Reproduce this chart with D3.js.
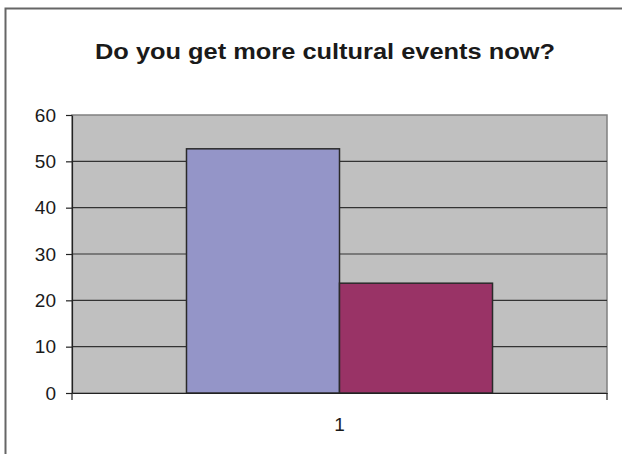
<!DOCTYPE html>
<html>
<head>
<meta charset="utf-8">
<script src="https://cdn.jsdelivr.net/npm/d3@7"></script>
<style>
  body { margin: 0; background: #fff; }
  svg { display: block; font-family: "Liberation Sans", Arial, sans-serif; }
</style>
</head>
<body>
<div id="chart"></div>
<script>
var title = "Do you get more cultural events now?";
var categories = ["1"];
var seriesNames = ["Yes", "No"];
var seriesValues = [52.7, 23.7];
var seriesColors = ["#9495c8", "#993366"];
var yTicks = [0, 10, 20, 30, 40, 50, 60];

var W = 622, H = 454;
var margin = {top: 115, right: 15, bottom: 61, left: 72},
    width = W - margin.left - margin.right,
    height = H - margin.top - margin.bottom;

var svg = d3.select("#chart")
    .append("svg")
    .attr("width", W)
    .attr("height", H);

// outer chart border
svg.append("rect")
    .attr("x", 5.5)
    .attr("y", 8.5)
    .attr("width", W)
    .attr("height", H)
    .attr("fill", "white")
    .attr("stroke", "#666")
    .attr("stroke-width", 2);

svg.append("text")
    .attr("x", 325)
    .attr("y", 59)
    .attr("text-anchor", "middle")
    .attr("textLength", 460)
    .attr("lengthAdjust", "spacingAndGlyphs")
    .style("font-size", "22.5px")
    .style("font-weight", "bold")
    .style("fill", "#1a1a1a")
    .text(title);

var g = svg.append("g")
    .attr("transform", "translate(" + margin.left + "," + margin.top + ")");

var y = d3.scaleLinear().domain([0, 60]).range([height, 0]);
var x0 = d3.scaleBand().domain(categories).range([0, width]).paddingInner(0).paddingOuter(0);
var x1 = d3.scaleBand().domain(seriesNames).range([x0.bandwidth() * 0.214, x0.bandwidth() * 0.786]);

// plot background
g.append("rect")
    .attr("width", width)
    .attr("height", height)
    .attr("fill", "#c0c0c0")
    .attr("stroke", "#808080")
    .attr("stroke-width", 1.5);

// gridlines
g.selectAll(".grid")
    .data(yTicks.slice(1, -1))
    .enter()
    .append("line")
    .attr("x1", 0)
    .attr("x2", width)
    .attr("y1", function (d) { return y(d); })
    .attr("y2", function (d) { return y(d); })
    .attr("stroke", "#333")
    .attr("stroke-width", 1.2);

// bars
g.selectAll(".bar")
    .data(seriesValues)
    .enter()
    .append("rect")
    .attr("x", function (d, i) { return x0(categories[0]) + x1(seriesNames[i]); })
    .attr("y", function (d) { return y(d); })
    .attr("width", x1.bandwidth())
    .attr("height", function (d) { return height - y(d); })
    .attr("fill", function (d, i) { return seriesColors[i]; })
    .attr("stroke", "#2a2a2a")
    .attr("stroke-width", 1.5);

// y axis
var yAxis = g.append("g")
    .call(d3.axisLeft(y).tickValues(yTicks).tickSize(6).tickSizeOuter(0).tickPadding(10));
yAxis.select(".domain").attr("stroke", "#222").attr("stroke-width", 1.2);
yAxis.selectAll(".tick line").attr("stroke", "#222").attr("stroke-width", 1.2);
yAxis.selectAll("text")
    .attr("font-size", 19)
    .style("font-size", "19px")
    .style("fill", "#1a1a1a")
    .style("font-family", "'Liberation Sans', Arial, sans-serif");

// x axis
var xAxis = g.append("g")
    .attr("transform", "translate(0," + height + ")")
    .call(d3.axisBottom(x0).tickSize(0).tickPadding(25));
xAxis.select(".domain").attr("stroke", "#222").attr("stroke-width", 1.2);
xAxis.selectAll("text")
    .style("font-size", "19px")
    .style("fill", "#1a1a1a")
    .style("font-family", "'Liberation Sans', Arial, sans-serif");

// category boundary ticks
g.selectAll(".xtick")
    .data([0, width])
    .enter()
    .append("line")
    .attr("x1", function (d) { return d; })
    .attr("x2", function (d) { return d; })
    .attr("y1", height)
    .attr("y2", height + 7)
    .attr("stroke", "#222")
    .attr("stroke-width", 1.2);
</script>
</body>
</html>
